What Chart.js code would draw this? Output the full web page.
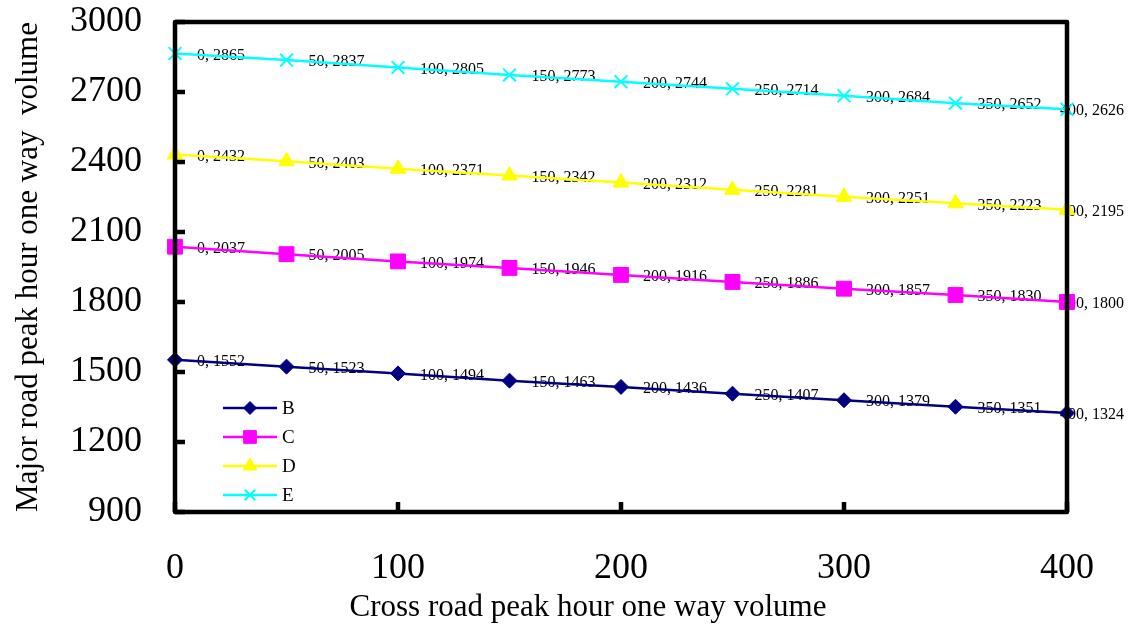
<!DOCTYPE html>
<html>
<head>
<meta charset="utf-8">
<script src="https://cdn.jsdelivr.net/npm/chart.js@4/dist/chart.umd.min.js"></script>
<style>
  html, body { margin: 0; padding: 0; background: #ffffff; }
  #wrap { width: 1136px; height: 628px; }
</style>
</head>
<body>
<div id="wrap"><canvas id="chart" width="1136" height="628"></canvas></div>
<script>
// Cross-road volume (x) and major-road volume for each level of service
const crossVolume = [0, 50, 100, 150, 200, 250, 300, 350, 400];
const seriesNames = ['B', 'C', 'D', 'E'];
const volumeB = [1552, 1523, 1494, 1463, 1436, 1407, 1379, 1351, 1324];
const volumeC = [2037, 2005, 1974, 1946, 1916, 1886, 1857, 1830, 1800];
const volumeD = [2432, 2403, 2371, 2342, 2312, 2281, 2251, 2223, 2195];
const volumeE = [2865, 2837, 2805, 2773, 2744, 2714, 2684, 2652, 2626];
const xTicks = [0, 100, 200, 300, 400];
const yTicks = [900, 1200, 1500, 1800, 2100, 2400, 2700, 3000];
const xTitle = 'Cross road peak hour one way volume';
const yTitle = 'Major road peak hour one way  volume';

const SERIF = "'Liberation Serif', 'Times New Roman', serif";

const styles = [
  { color: '#000080', pointStyle: 'rectRot', radius: 7.5, legendRadius: 6.5 },
  { color: '#FF00FF', pointStyle: 'rect', radius: 10.5, legendRadius: 9 },
  { color: '#FFFF00', pointStyle: 'triangle', radius: 9, legendRadius: 8 },
  { color: '#00FFFF', pointStyle: 'crossRot', radius: 9, legendRadius: 7.5 }
];
const seriesValues = [volumeB, volumeC, volumeD, volumeE];

const datasets = seriesNames.map((name, i) => ({
  label: name,
  data: crossVolume.map((x, j) => ({ x: x, y: seriesValues[i][j] })),
  borderColor: styles[i].color,
  backgroundColor: styles[i].color,
  pointBackgroundColor: styles[i].color,
  pointBorderColor: styles[i].color,
  pointStyle: styles[i].pointStyle,
  pointRadius: styles[i].radius,
  pointBorderWidth: styles[i].pointStyle === 'crossRot' ? 2 : 1,
  borderWidth: 2.5,
  tension: 0,
  clip: false
}));

// "x, y" value labels beside each point, drawn underneath the lines and markers
const valueLabels = {
  id: 'valueLabels',
  beforeDatasetsDraw(chart) {
    const ctx = chart.ctx;
    ctx.save();
    ctx.font = '16px ' + SERIF;
    ctx.fillStyle = '#000000';
    ctx.textAlign = 'left';
    ctx.textBaseline = 'middle';
    chart.data.datasets.forEach((ds, i) => {
      const meta = chart.getDatasetMeta(i);
      meta.data.forEach((pt, j) => {
        const d = ds.data[j];
        const dx = j === ds.data.length - 1 ? -7 : 22;
        ctx.fillText(d.x + ', ' + d.y, pt.x + dx, pt.y + 2);
      });
    });
    ctx.restore();
  }
};

// Plot frame with inward tick marks, plus the horizontal axis title
const frame = {
  id: 'frame',
  afterDatasetsDraw(chart) {
    const ctx = chart.ctx;
    const a = chart.chartArea;
    const xs = chart.scales.x, ys = chart.scales.y;
    ctx.save();
    ctx.strokeStyle = '#000000';
    ctx.lineWidth = 4.5;
    ctx.lineJoin = 'round';
    ctx.beginPath();
    yTicks.forEach(v => {
      const y = ys.getPixelForValue(v);
      ctx.moveTo(a.left, y);
      ctx.lineTo(a.left + 10, y);
    });
    xTicks.forEach(v => {
      const x = xs.getPixelForValue(v);
      ctx.moveTo(x, a.bottom);
      ctx.lineTo(x, a.bottom - 10);
    });
    ctx.stroke();
    ctx.strokeRect(a.left, a.top, a.right - a.left, a.bottom - a.top);

    ctx.fillStyle = '#000000';
    ctx.font = '31px ' + SERIF;
    ctx.textAlign = 'center';
    ctx.textBaseline = 'middle';
    ctx.fillText(xTitle, a.left + 413, a.bottom + 96);
    ctx.restore();
  }
};

// Legend inside the plot: line sample with marker, then the series name
const innerLegend = {
  id: 'innerLegend',
  afterDraw(chart) {
    const ctx = chart.ctx;
    const a = chart.chartArea;
    const x0 = a.left + 48;
    const lineLen = 54;
    ctx.save();
    ctx.font = '19px ' + SERIF;
    ctx.textAlign = 'left';
    ctx.textBaseline = 'middle';
    chart.data.datasets.forEach((ds, i) => {
      const y = a.bottom - 104 + i * 29;
      ctx.strokeStyle = ds.borderColor;
      ctx.lineWidth = 2.5;
      ctx.beginPath();
      ctx.moveTo(x0, y);
      ctx.lineTo(x0 + lineLen, y);
      ctx.stroke();
      ctx.fillStyle = ds.backgroundColor;
      ctx.lineWidth = ds.pointStyle === 'crossRot' ? 2 : 1;
      Chart.helpers.drawPoint(ctx, {
        pointStyle: ds.pointStyle,
        radius: styles[i].legendRadius,
        rotation: 0,
        borderWidth: ctx.lineWidth
      }, x0 + lineLen / 2, y);
      ctx.fillStyle = '#000000';
      ctx.fillText(ds.label, x0 + lineLen + 5, y + 1);
    });
    ctx.restore();
  }
};

new Chart(document.getElementById('chart'), {
  type: 'line',
  data: { datasets: datasets },
  plugins: [valueLabels, frame, innerLegend],
  options: {
    responsive: false,
    animation: false,
    layout: { padding: { left: 0, top: 22, right: 69, bottom: 0 } },
    plugins: {
      legend: { display: false },
      tooltip: { enabled: false }
    },
    scales: {
      x: {
        type: 'linear',
        min: 0,
        max: 400,
        afterBuildTicks(scale) { scale.ticks = xTicks.map(v => ({ value: v })); },
        afterFit(scale) {
          scale.height = 116;
          scale.paddingLeft = 0;
          scale.paddingRight = 0;
        },
        grid: { display: false, drawTicks: false },
        border: { display: false },
        ticks: {
          padding: 35,
          color: '#000000',
          font: { family: SERIF, size: 36 },
          callback: v => String(v)
        }
      },
      y: {
        type: 'linear',
        min: 900,
        max: 3000,
        afterBuildTicks(scale) { scale.ticks = yTicks.map(v => ({ value: v })); },
        afterFit(scale) {
          scale.width = 175;
          scale.paddingTop = 0;
          scale.paddingBottom = 0;
        },
        grid: { display: false, drawTicks: false },
        border: { display: false },
        ticks: {
          padding: 33,
          color: '#000000',
          font: { family: SERIF, size: 36 },
          callback: v => String(v)
        },
        title: {
          display: true,
          text: yTitle,
          color: '#000000',
          font: { family: SERIF, size: 31 },
          padding: { top: 10, bottom: 0 }
        }
      }
    }
  }
});
</script>
</body>
</html>
